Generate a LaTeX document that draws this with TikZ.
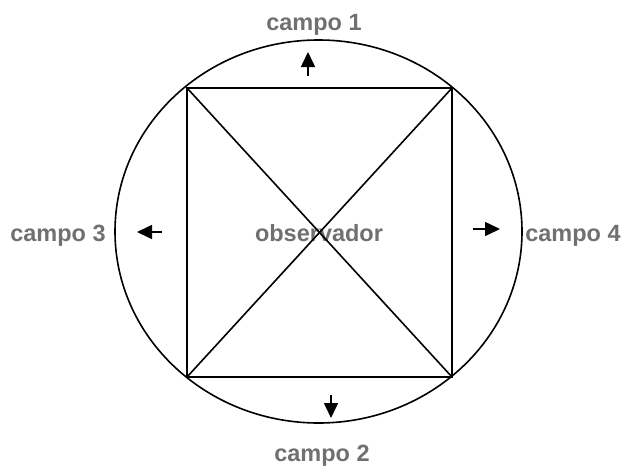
\documentclass[tikz,border=0pt]{standalone}
\usepackage{fontspec}
\setmainfont{Liberation Sans}
\usetikzlibrary{arrows.meta}
\definecolor{labelgray}{RGB}{112,112,112}
\begin{document}
\begin{tikzpicture}[x=1pt,y=-1pt,line width=1.6pt,
        campo/.style={font=\fontsize{23.5}{27}\selectfont\bfseries, text=labelgray, anchor=base, inner sep=0pt},
        seta/.style={-{Triangle[length=15pt,width=14pt]}}]
        \useasboundingbox (0,0) rectangle (623,466);

        \node[campo] (obs) at (319,241) {observador};
        \node[campo] (c1) at (314,30) {campo 1};
        \node[campo] (c2) at (322,461) {campo 2};
        \node[campo] (c3) at (58,241) {campo 3};
        \node[campo] (c4) at (573,241) {campo 4};

        \coordinate (a) at (187,88);
        \coordinate (b) at (452,88);
        \coordinate (c) at (452,377);
        \coordinate (d) at (187,377);
        \draw (318.5,231.5) ellipse [x radius=203.5pt, y radius=191.5pt];
        \draw (a) -- (b) -- (c) -- (d) -- cycle;
        \draw (a) -- (c);
        \draw (b) -- (d);

        \coordinate (s1) at (308,76);  \coordinate (t1) at (308,52);
        \coordinate (s2) at (331,395); \coordinate (t2) at (331,418);
        \coordinate (s3) at (162,232); \coordinate (t3) at (137,232);
        \coordinate (s4) at (473,229); \coordinate (t4) at (500,229);
        \draw[seta] (s1) -- (t1);
        \draw[seta] (s2) -- (t2);
        \draw[seta] (s3) -- (t3);
        \draw[seta] (s4) -- (t4);
    \end{tikzpicture}
\end{document}
